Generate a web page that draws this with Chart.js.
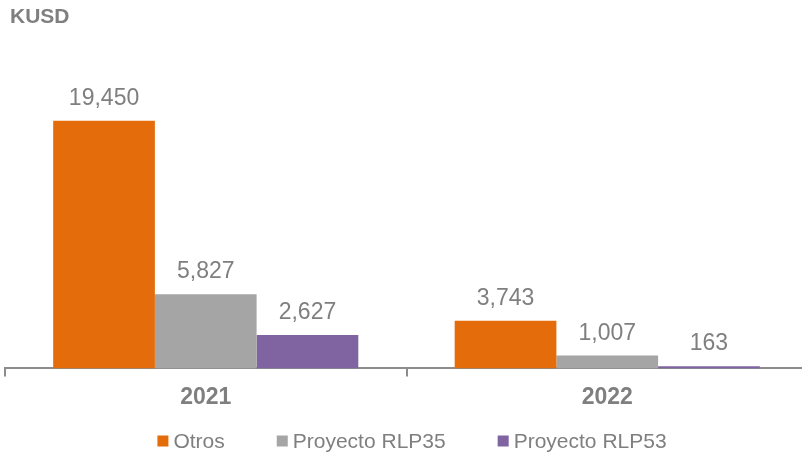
<!DOCTYPE html>
<html>
<head>
<meta charset="utf-8">
<script src="https://cdn.jsdelivr.net/npm/chart.js@4"></script>
<style>
  html, body { margin: 0; padding: 0; background: #fff; overflow: hidden; }
  #wrap { position: relative; width: 808px; height: 454px; }
</style>
</head>
<body>
<div id="wrap"><canvas id="chart" width="808" height="454"></canvas></div>
<script>
// data
const years = ['2021', '2022'];
const otros = [19450, 3743];
const rlp35 = [5827, 1007];
const rlp53 = [2627, 163];
const seriesNames = ['Otros', 'Proyecto RLP35', 'Proyecto RLP53'];
const unitLabel = 'KUSD';

const grey = '#7f7f7f';
const fontFamily = '"Liberation Sans", Arial, sans-serif';

// value labels above the bars
const barLabels = {
    id: 'barLabels',
    afterDatasetsDraw(chart) {
        const ctx = chart.ctx;
        ctx.save();
        ctx.font = '23px ' + fontFamily;
        ctx.fillStyle = grey;
        ctx.textAlign = 'center';
        ctx.textBaseline = 'alphabetic';
        chart.data.datasets.forEach((ds, i) => {
            chart.getDatasetMeta(i).data.forEach((bar, j) => {
                ctx.fillText(ds.data[j].toLocaleString('en-US'), bar.x, bar.y - 16);
            });
        });
        ctx.restore();
    }
};

// unit text + legend drawn by hand so the spacing matches
const extras = {
    id: 'extras',
    afterDraw(chart) {
        const ctx = chart.ctx;
        ctx.save();
        ctx.font = 'bold 21px ' + fontFamily;
        ctx.fillStyle = grey;
        ctx.textAlign = 'left';
        ctx.textBaseline = 'middle';
        ctx.fillText(unitLabel, 10, 17);

        // legend
        ctx.font = '21px ' + fontFamily;
        const box = 11, gapText = 5, gapItem = 52;
        const items = chart.data.datasets.map(ds => ({
            label: ds.label, color: ds.backgroundColor, w: ctx.measureText(ds.label).width
        }));
        let total = 0;
        items.forEach((it, i) => { total += box + gapText + it.w + (i ? gapItem : 0); });
        let x = 412 - total / 2;
        const y = 442;
        items.forEach(it => {
            ctx.fillStyle = it.color;
            ctx.fillRect(x, y - box / 2 - 1, box, box);
            ctx.fillStyle = grey;
            ctx.fillText(it.label, x + box + gapText, y);
            x += box + gapText + it.w + gapItem;
        });
        ctx.restore();
    }
};

new Chart(document.getElementById('chart'), {
    type: 'bar',
    data: {
        labels: years,
        datasets: [
            { label: seriesNames[0], data: otros, backgroundColor: '#e46c0a' },
            { label: seriesNames[1], data: rlp35, backgroundColor: '#a5a5a5' },
            { label: seriesNames[2], data: rlp53, backgroundColor: '#8064a2' }
        ]
    },
    options: {
        responsive: false,
        animation: false,
        devicePixelRatio: 1,
        layout: { padding: { top: 50, left: 5, right: 0, bottom: 36 } },
        datasets: { bar: { categoryPercentage: 0.76, barPercentage: 1 } },
        plugins: {
            legend: { display: false },
            tooltip: { enabled: false }
        },
        scales: {
            x: {
                grid: { drawOnChartArea: false, drawTicks: true, tickLength: 8, color: '#8c8c8c', lineWidth: 2 },
                border: { color: '#8c8c8c', width: 2 },
                ticks: { color: grey, padding: 7, font: { size: 23, weight: 'bold', family: fontFamily } }
            },
            y: {
                display: false,
                min: 0,
                max: 25000
            }
        }
    },
    plugins: [barLabels, extras]
});
</script>
</body>
</html>
